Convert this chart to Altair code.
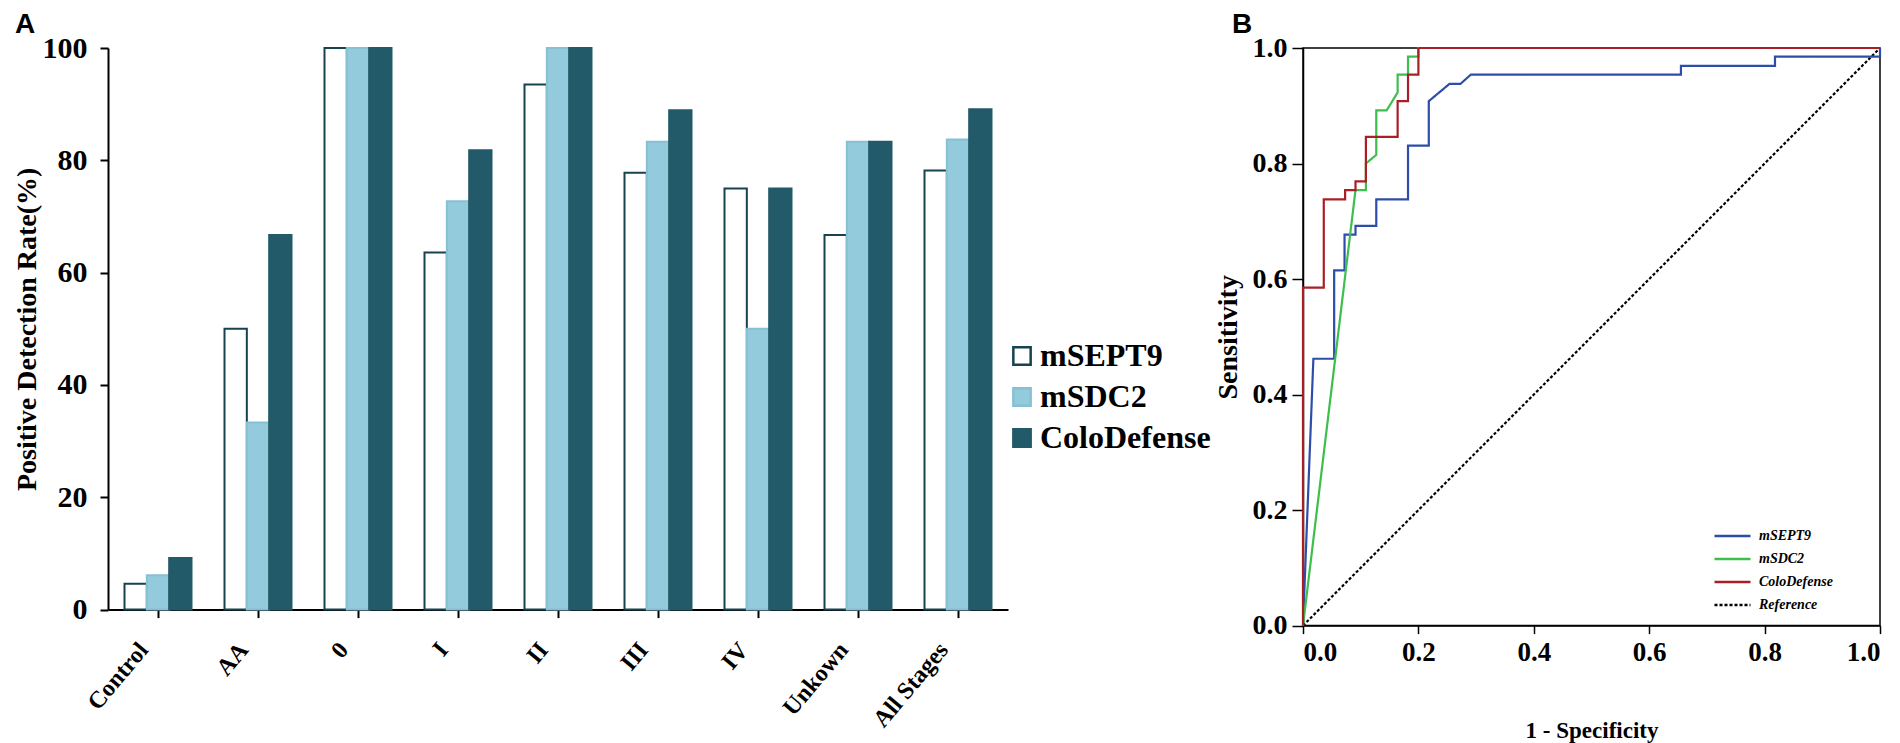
import altair as alt
import pandas as pd

# ---------------- Panel A data ----------------
categories = ["Control", "AA", "0", "I", "II", "III", "IV", "Unkown", "All Stages"]
series_names = ["mSEPT9", "mSDC2", "ColoDefense"]
msept9 = [4.6, 50.0, 100.0, 63.6, 93.5, 77.8, 75.0, 66.7, 78.2]
msdc2 = [6.1, 33.3, 100.0, 72.7, 100.0, 83.3, 50.0, 83.3, 83.7]
colodefense = [9.2, 66.7, 100.0, 81.8, 100.0, 88.9, 75.0, 83.3, 89.1]
y_ticks_a = [0, 20, 40, 60, 80, 100]

# ---------------- Panel B data ----------------
roc_series = ["mSEPT9", "mSDC2", "ColoDefense", "Reference"]
sept9_x = [0, 0.018, 0.054, 0.054, 0.072, 0.072, 0.091, 0.091, 0.127, 0.127, 0.182, 0.182,
           0.218, 0.218, 0.254, 0.273, 0.291, 0.655, 0.655, 0.818, 0.818, 1.0, 1.0]
sept9_y = [0, 0.462, 0.462, 0.615, 0.615, 0.677, 0.677, 0.692, 0.692, 0.738, 0.738, 0.831,
           0.831, 0.908, 0.938, 0.938, 0.954, 0.954, 0.969, 0.969, 0.985, 0.985, 1.0]
sdc2_x = [0, 0.091, 0.109, 0.109, 0.127, 0.127, 0.145, 0.164, 0.164, 0.182, 0.182, 0.200, 0.200, 1.0]
sdc2_y = [0, 0.754, 0.754, 0.800, 0.815, 0.892, 0.892, 0.923, 0.954, 0.954, 0.985, 0.985, 1.0, 1.0]
colo_x = [0, 0, 0.036, 0.036, 0.073, 0.073, 0.091, 0.091, 0.109, 0.109, 0.164, 0.164,
          0.182, 0.182, 0.200, 0.200, 1.0]
colo_y = [0, 0.585, 0.585, 0.738, 0.738, 0.754, 0.754, 0.769, 0.769, 0.846, 0.846, 0.908,
          0.908, 0.954, 0.954, 1.0, 1.0]
ref_x = [0, 1]
ref_y = [0, 1]
roc_ticks = [0, 0.2, 0.4, 0.6, 0.8, 1.0]

SERIF = "Liberation Serif"
SANS = "Liberation Sans"

# ---------------- build tables ----------------
bar_rows = []
for name, vals in zip(series_names, [msept9, msdc2, colodefense]):
    for c, v in zip(categories, vals):
        bar_rows.append({"category": c, "series": name, "value": v})
bar_df = pd.DataFrame(bar_rows)

roc_rows = []
for name, xs, ys in [("Reference", ref_x, ref_y), ("mSEPT9", sept9_x, sept9_y),
                     ("mSDC2", sdc2_x, sdc2_y), ("ColoDefense", colo_x, colo_y)]:
    for i, (xv, yv) in enumerate(zip(xs, ys)):
        roc_rows.append({"series": name, "x": xv, "y": yv, "order": i})
roc_df = pd.DataFrame(roc_rows)

# ---------------- Panel A ----------------
fill_scale = alt.Scale(domain=series_names, range=["#ffffff", "#93CBDD", "#235A69"])
stroke_scale = alt.Scale(domain=series_names, range=["#17434F", "#88C0D3", "#235A69"])
legend_a = alt.Legend(
    title=None, orient="none", legendX=898, legendY=292, padding=0,
    symbolType="square", symbolSize=300, symbolStrokeWidth=2.5,
    labelFont=SERIF, labelFontSize=32, labelFontWeight="bold", labelColor="black",
    labelLimit=400, rowPadding=9, labelOffset=2,
)

bars = alt.Chart(bar_df).mark_bar(strokeWidth=2).encode(
    x=alt.X("category:N", sort=categories,
            scale=alt.Scale(paddingInner=0.33, paddingOuter=0.165),
            axis=alt.Axis(title=None, labelAngle=-50, labelAlign="right", labelBaseline="middle",
                          labelPadding=28, labelOffset=-14, labelFont=SERIF, labelFontSize=24,
                          labelFontWeight="bold",
                          labelColor="black", tickSize=8, tickWidth=2, tickColor="black",
                          domainColor="black", domainWidth=2)),
    xOffset=alt.XOffset("series:N", sort=series_names,
                        scale=alt.Scale(paddingInner=0, paddingOuter=0)),
    y=alt.Y("value:Q", scale=alt.Scale(domain=[0, 100], nice=False),
            axis=alt.Axis(values=y_ticks_a, title="Positive Detection Rate(%)", grid=False,
                          titleFont=SERIF, titleFontSize=28, titleFontWeight="bold", titleColor="black",
                          titlePadding=1, labelFont=SERIF, labelFontSize=30, labelFontWeight="bold",
                          labelColor="black", labelPadding=13, tickSize=8, tickWidth=2,
                          tickColor="black", domainColor="black", domainWidth=2)),
    fill=alt.Fill("series:N", scale=fill_scale, legend=legend_a),
    stroke=alt.Stroke("series:N", scale=stroke_scale, legend=legend_a),
)

label_a = alt.Chart(pd.DataFrame({"t": ["A"]})).mark_text(
    font=SANS, fontSize=28, fontWeight="bold", align="left", baseline="top", color="black"
).encode(text="t:N", x=alt.value(-93), y=alt.value(-37))

panel_a = alt.layer(bars, label_a).properties(
    width=900, height=561.6,
    view=alt.ViewBackground(stroke="transparent"),
)

# ---------------- Panel B ----------------
color_scale = alt.Scale(domain=roc_series, range=["#2D4EA8", "#3EBE4C", "#A81F25", "#000000"])
dash_scale = alt.Scale(domain=roc_series, range=[[1, 0], [1, 0], [1, 0], [3, 2]])
legend_b = alt.Legend(
    title=None, orient="none", legendX=418, legendY=476.5, padding=0,
    symbolType="M-1.8,0H1.8", symbolSize=400, symbolStrokeWidth=2.5,
    symbolFillColor="transparent",
    labelFont=SERIF, labelFontSize=14, labelFontWeight="bold", labelFontStyle="italic",
    labelColor="black", rowPadding=4, labelOffset=15,
)

roc_lines = alt.Chart(roc_df).mark_line(strokeWidth=2.2).encode(
    x=alt.X("x:Q", scale=alt.Scale(domain=[0, 1], nice=False),
            axis=alt.Axis(values=roc_ticks, format=".1f", title="1 - Specificity", grid=False,
                          titleFont=SERIF, titleFontSize=23, titleFontWeight="bold", titleColor="black",
                          titlePadding=54, labelFont=SERIF, labelFontSize=27, labelFontWeight="bold",
                          labelColor="black", labelPadding=6, tickSize=8, tickWidth=1.5,
                          tickColor="black", domainColor="black", domainWidth=1.5)),
    y=alt.Y("y:Q", scale=alt.Scale(domain=[0, 1], nice=False),
            axis=alt.Axis(values=roc_ticks, format=".1f", title="Sensitivity", grid=False,
                          titleFont=SERIF, titleFontSize=28, titleFontWeight="bold", titleColor="black",
                          titlePadding=10, labelFont=SERIF, labelFontSize=28, labelFontWeight="bold",
                          labelColor="black", labelPadding=5, tickSize=11, tickWidth=1.5,
                          tickColor="black", domainColor="black", domainWidth=1.5)),
    color=alt.Color("series:N", scale=color_scale, legend=legend_b),
    strokeDash=alt.StrokeDash("series:N", scale=dash_scale, legend=legend_b),
    order=alt.Order("order:Q"),
)

label_b = alt.Chart(pd.DataFrame({"t": ["B"]})).mark_text(
    font=SANS, fontSize=28, fontWeight="bold", align="left", baseline="top", color="black"
).encode(text="t:N", x=alt.value(-71), y=alt.value(-37))

panel_b = alt.layer(roc_lines, label_b).properties(
    width=577, height=577.6,
    view=alt.ViewBackground(stroke="black", strokeWidth=1.5),
)

chart = alt.hconcat(panel_a, panel_b, spacing=1).properties(
    padding={"left": 4, "top": 2, "right": 0, "bottom": 0}
).resolve_scale(color="independent", strokeDash="independent", fill="independent",
                stroke="independent", x="independent", y="independent").configure(
    background="white"
)

chart.save("out.html", embed_options={"renderer": "svg", "actions": False})
